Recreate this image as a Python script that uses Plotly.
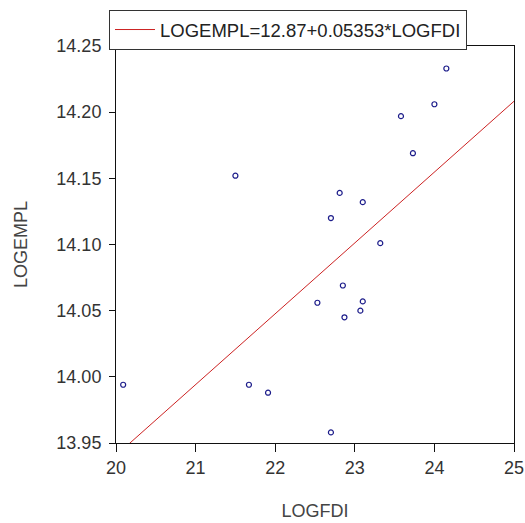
import plotly.graph_objects as go

logfdi = [20.09, 21.50, 21.67, 21.91, 22.53, 22.70, 22.70, 22.81, 22.85,
          22.87, 23.07, 23.10, 23.10, 23.32, 23.58, 23.73, 24.00, 24.15]
logempl = [13.994, 14.152, 13.994, 13.988, 14.056, 14.120, 13.958, 14.139, 14.069,
           14.045, 14.050, 14.057, 14.132, 14.101, 14.197, 14.169, 14.206, 14.233]

intercept = 12.87
slope = 0.05353
line_x = [20, 25]
line_y = [intercept + slope * v for v in line_x]

x_ticks = [20, 21, 22, 23, 24, 25]
y_ticks = [13.95, 14.00, 14.05, 14.10, 14.15, 14.20, 14.25]

font = "Liberation Sans, Arial, sans-serif"

fig = go.Figure()
fig.add_trace(go.Scatter(
    x=logfdi, y=logempl, mode="markers", showlegend=False,
    marker=dict(symbol="circle-open", size=5, color="#1c1c8a", line=dict(width=1.2)),
))
fig.add_trace(go.Scatter(
    x=line_x, y=line_y, mode="lines", name="LOGEMPL=12.87+0.05353*LOGFDI",
    line=dict(color="#cc2222", width=1),
))

fig.update_layout(
    width=525, height=523,
    margin=dict(l=116, r=11, t=46, b=80, autoexpand=False),
    paper_bgcolor="white", plot_bgcolor="white",
    font=dict(family=font, size=18, color="#333"),
    legend=dict(x=-0.0176, y=1.0907, xanchor="left", yanchor="top",
                bordercolor="#333", borderwidth=1, bgcolor="white",
                font=dict(size=18.5, color="#222"), itemwidth=40,
                tracegroupgap=0),
    xaxis=dict(range=[20, 25], tickvals=x_ticks, showgrid=False, zeroline=False,
               showline=True, linecolor="#111", linewidth=1, mirror=True,
               ticks="outside", ticklen=8, tickcolor="#111", automargin=False,
               title=dict(text="LOGFDI", font=dict(size=18, color="#444"), standoff=27),
               tickfont=dict(size=18, color="#333")),
    yaxis=dict(range=[13.95, 14.25], tickvals=y_ticks, tickformat=".2f",
               showgrid=False, zeroline=False, automargin=False,
               showline=True, linecolor="#111", linewidth=1, mirror=True,
               ticks="outside", ticklen=6, tickcolor="#111", ticklabelstandoff=4,
               title=dict(text="LOGEMPL", font=dict(size=18, color="#444"), standoff=24),
               tickfont=dict(size=18, color="#333")),
)

fig.write_html("out.html", config={"displayModeBar": False},
               post_script="document.body.style.margin='0';document.body.style.overflow='hidden';")
